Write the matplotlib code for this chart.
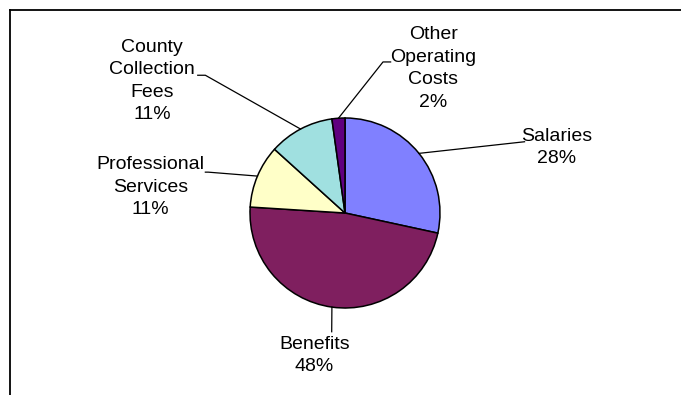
import numpy as np
import matplotlib.pyplot as plt
from matplotlib.lines import Line2D

categories = ["Salaries", "Benefits", "Professional\nServices",
              "County\nCollection\nFees", "Other\nOperating\nCosts"]
shares = [28.4, 47.6, 10.7, 11.1, 2.2]
colors = ["#8080FF", "#7F1F5F", "#FFFFC8", "#A0E0E0", "#600080"]

# label centre and leader end point for each wedge, in pie radius units
label_pos = [(2.23, 0.69), (-0.32, -1.50), (-2.05, 0.27), (-2.03, 1.39), (0.93, 1.52)]
leader_end = [[(1.89, 0.75)],
              [(-0.14, -1.25)],
              [(-1.47, 0.43), (-1.44, 0.43)],
              [(-1.55, 1.45), (-1.47, 1.45)],
              [(0.48, 1.59), (0.40, 1.59)]]

W, H, DPI = 681, 395, 100
cx, cy, scale = 345, 213, 95

fig = plt.figure(figsize=(W / DPI, H / DPI), dpi=DPI)
ax = fig.add_axes([0, 0, 1, 1])

wedges, _ = ax.pie(shares, colors=colors, startangle=90, counterclock=False,
                   wedgeprops=dict(edgecolor="black", linewidth=1.1))

ax.set_xlim(-cx / scale, (W - cx) / scale)
ax.set_ylim(-(H - cy) / scale, cy / scale)
ax.set_aspect("auto")
ax.axis("off")

for w, name, pct, (tx, ty), ends in zip(wedges, categories, shares, label_pos, leader_end):
    mid = np.deg2rad((w.theta1 + w.theta2) / 2)
    pts = [(np.cos(mid), np.sin(mid))] + ends[::-1]
    xs, ys = zip(*pts)
    ax.plot(xs, ys, color="black", linewidth=0.9)
    ax.text(tx, ty, f"{name}\n{pct:.0f}%", ha="center", va="center",
            fontsize=14, family="Liberation Sans", linespacing=1.42)

# chart border
top = 1 - 10 / H
left = 10 / W
fig.add_artist(Line2D([left, 1], [top, top], color="black", linewidth=1.3,
                      transform=fig.transFigure))
fig.add_artist(Line2D([left, left], [0, top], color="black", linewidth=1.3,
                      transform=fig.transFigure))

fig.savefig("out.png", dpi=DPI)
